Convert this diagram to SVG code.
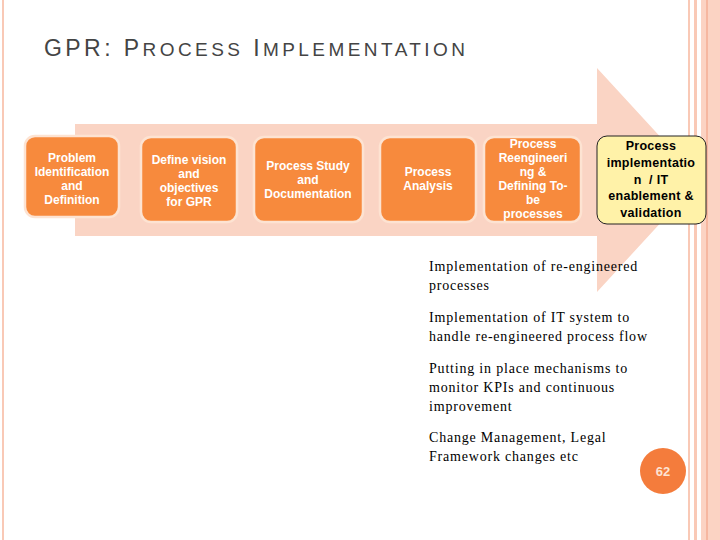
<svg xmlns="http://www.w3.org/2000/svg" width="720" height="540" viewBox="0 0 720 540">
<style>
.b{fill:#f78a3d;stroke:#fde3d2;stroke-width:2.5}
.bt{font-family:"Liberation Sans",Arial,sans-serif;font-size:12px;font-weight:bold;fill:#fff;text-anchor:middle}
.yt{font-family:"Liberation Sans",Arial,sans-serif;font-size:12.5px;font-weight:bold;fill:#000;text-anchor:middle;letter-spacing:0.3px}
.body{font-family:"Liberation Serif","Times New Roman",serif;font-size:14px;fill:#000;letter-spacing:0.8px}
</style>
<rect width="720" height="540" fill="#fff"/>
<rect x="2" y="0" width="2" height="540" fill="#f9c9b6"/>
<rect x="688" y="0" width="2" height="540" fill="#f9c9b6"/>
<rect x="694" y="0" width="3" height="540" fill="#f9c9b6"/>
<rect x="701" y="0" width="19" height="540" fill="#fbd3c3"/>
<rect x="706" y="0" width="2" height="540" fill="#f6b7a0"/>
<text x="44" y="56" font-family="'Liberation Sans',Arial,sans-serif" font-size="23" fill="#444" textLength="421" lengthAdjust="spacing">GPR: P<tspan font-size="19">ROCESS</tspan> I<tspan font-size="19">MPLEMENTATION</tspan></text>
<polygon points="75,124 597,124 597,68 700,180 597,292 597,236 75,236" fill="#fad4c4"/>
<g id="connectors"></g>
<g id="n1"><rect class="b" x="25" y="136" width="94" height="81" rx="10"/>
<text class="bt"><tspan x="72" y="162">Problem</tspan><tspan x="72" y="176">Identification</tspan><tspan x="72" y="190">and</tspan><tspan x="72" y="204">Definition</tspan></text></g>
<g id="n2"><rect class="b" x="141" y="137" width="96" height="85" rx="10"/>
<text class="bt"><tspan x="189" y="164">Define vision</tspan><tspan x="189" y="178">and</tspan><tspan x="189" y="192">objectives</tspan><tspan x="189" y="206">for GPR</tspan></text></g>
<g id="n3"><rect class="b" x="254" y="137" width="109" height="85" rx="10"/>
<text class="bt"><tspan x="308" y="170">Process Study</tspan><tspan x="308" y="184">and</tspan><tspan x="308" y="198">Documentation</tspan></text></g>
<g id="n4"><rect class="b" x="380" y="137" width="96" height="85" rx="10"/>
<text class="bt"><tspan x="428" y="176">Process</tspan><tspan x="428" y="190">Analysis</tspan></text></g>
<g id="n5"><rect class="b" x="484" y="137" width="97" height="85" rx="10"/>
<text class="bt"><tspan x="533" y="148">Process</tspan><tspan x="533" y="162">Reengineeri</tspan><tspan x="533" y="176">ng &amp;</tspan><tspan x="533" y="190">Defining To-</tspan><tspan x="533" y="204">be</tspan><tspan x="533" y="218">processes</tspan></text></g>
<g id="n6"><rect x="597" y="136" width="109" height="88" rx="10" fill="#fff2a8" stroke="#222" stroke-width="1"/>
<text class="yt"><tspan x="651" y="150">Process</tspan><tspan x="651" y="167">implementatio</tspan><tspan x="651" y="184">n&#160; / IT</tspan><tspan x="651" y="200">enablement &amp;</tspan><tspan x="651" y="217">validation</tspan></text></g>
<g id="notes" class="body">
<text x="429" y="271">Implementation of re-engineered</text>
<text x="429" y="290">processes</text>
<text x="429" y="322">Implementation of IT system to</text>
<text x="429" y="341">handle re-engineered process flow</text>
<text x="429" y="373">Putting in place mechanisms to</text>
<text x="429" y="392">monitor KPIs and continuous</text>
<text x="429" y="411">improvement</text>
<text x="429" y="442">Change Management, Legal</text>
<text x="429" y="461">Framework changes etc</text>
</g>
<g id="page"><circle cx="663" cy="471" r="23" fill="#f47c3c"/>
<text x="663" y="476" font-family="'Liberation Sans',Arial,sans-serif" font-size="13" font-weight="bold" fill="#fde3d2" text-anchor="middle">62</text></g>
</svg>
